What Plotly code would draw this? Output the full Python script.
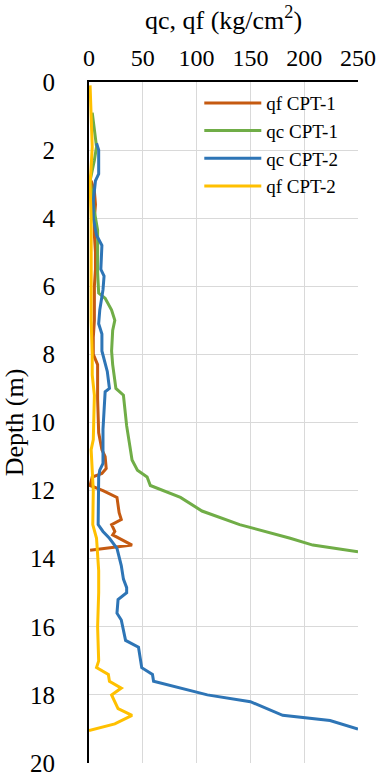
import plotly.graph_objects as go

# qf CPT-1 (orange)
qf1_depth = [2.9, 3.2, 3.6, 4.0, 4.5, 5.0, 5.5, 6.0, 6.5, 7.0, 7.5, 8.0, 8.3, 9.3, 10.3, 10.8, 11.0, 11.35, 11.5, 11.6, 11.85, 12.0, 12.2, 12.45, 12.65, 12.85, 13.0, 13.2, 13.3, 13.6, 13.75]
qf1_val = [2, 5, 6, 5, 5, 6, 6, 5, 5, 5, 4, 4, 8, 8, 9, 12, 15, 16, 12, 3, 1, 13, 26, 27, 28, 30, 21, 24, 22, 40, 1]

# qc CPT-1 (green)
qc1_depth = [0.9, 1.4, 1.9, 2.3, 2.9, 3.3, 3.8, 4.35, 5.0, 5.6, 6.2, 6.35, 6.7, 7.0, 7.3, 7.9, 8.3, 9.0, 9.2, 10.1, 10.7, 11.1, 11.4, 11.6, 11.85, 12.2, 12.6, 13.0, 13.4, 13.6, 13.8]
qc1_val = [3, 5, 7, 5, 1, 3, 5, 8, 8, 8, 9, 15, 21, 24, 22, 21, 22, 25, 32, 35, 38, 40, 45, 54, 57, 85, 105, 140, 187, 208, 250]

# qc CPT-2 (blue)
qc2_depth = [1.8, 2.0, 2.7, 2.9, 3.5, 4.0, 4.5, 4.8, 5.5, 5.7, 6.1, 6.7, 7.1, 7.4, 7.9, 8.5, 9.0, 9.1, 10.2, 11.2, 11.4, 11.6, 13.0, 13.2, 13.4, 13.7, 14.2, 14.6, 14.85, 15.0, 15.2, 15.6, 15.8, 16.4, 16.6, 17.2, 17.4, 17.6, 18.0, 18.2, 18.6, 18.75, 19.0]
qc2_val = [7, 9, 9, 6, 4, 4, 7, 12, 11, 14, 13, 10, 9, 12, 12, 17, 19, 15, 13, 13, 10, 9, 8.5, 13, 19, 26, 30, 32, 35, 35, 27, 26, 30, 34, 46, 49, 59, 60, 110, 150, 180, 224, 250]

# qf CPT-2 (yellow)
qf2_depth = [0.1, 1.0, 1.9, 2.5, 3.0, 4.0, 5.0, 6.0, 7.0, 8.0, 8.6, 9.2, 10.0, 10.5, 10.8, 11.3, 12.0, 13.0, 13.4, 14.35, 15.0, 16.0, 17.0, 17.2, 17.4, 17.6, 17.8, 18.0, 18.4, 18.6, 18.85, 19.05]
qf2_val = [1, 2, 3, 2, 1, 2, 2, 2, 2, 3, 3, 5, 4, 4, 2, 3, 4, 3.5, 7, 9, 9, 8, 9, 7, 18, 19, 30, 21, 27, 40, 24, 0]

x_ticks = [0, 50, 100, 150, 200, 250]
y_ticks = [0, 2, 4, 6, 8, 10, 12, 14, 16, 18, 20]

series = [
    ("qf CPT-1", qf1_val, qf1_depth, "#C55A11"),
    ("qc CPT-1", qc1_val, qc1_depth, "#70AD47"),
    ("qc CPT-2", qc2_val, qc2_depth, "#2E75B6"),
    ("qf CPT-2", qf2_val, qf2_depth, "#FFC000"),
]

fig = go.Figure()
for name, xv, yv, col in series:
    fig.add_trace(go.Scatter(x=xv, y=yv, mode="lines", name=name,
                             line=dict(color=col, width=3)))

font_family = "Liberation Serif"
fig.update_layout(
    width=378, height=776,
    margin=dict(l=89, r=20, t=82, b=13),
    paper_bgcolor="white", plot_bgcolor="white",
    font=dict(family=font_family, color="black", size=25),
    legend=dict(x=0.41, y=0.997, xanchor="left", yanchor="top",
                font=dict(family=font_family, size=19, color="black"),
                itemwidth=57,
                bgcolor="rgba(0,0,0,0)", tracegroupgap=0),
    xaxis=dict(side="top", range=[0, 250], tickvals=x_ticks,
               showgrid=True, gridcolor="#D9D9D9", gridwidth=1,
               showline=True, linecolor="black", linewidth=2,
               zeroline=False, ticks="", tickfont=dict(size=24),
               automargin=False, ticklabelstandoff=4, ticklabeloverflow="allow",
               title=dict(text="qc, qf (kg/cm<sup>2</sup>)", font=dict(size=26), standoff=8)),
    yaxis=dict(range=[20, 0], tickvals=y_ticks,
               showgrid=True, gridcolor="#D9D9D9", gridwidth=1,
               showline=True, linecolor="black", linewidth=2,
               zeroline=False, ticks="", tickfont=dict(size=25),
               automargin=False, ticklabelstandoff=27, ticklabeloverflow="allow",
               title=dict(text="Depth (m)", font=dict(size=26), standoff=8)),
)

fig.write_html("out.html", config={"displayModeBar": False},
               post_script="document.body.style.margin='0';document.body.style.overflow='hidden';")
